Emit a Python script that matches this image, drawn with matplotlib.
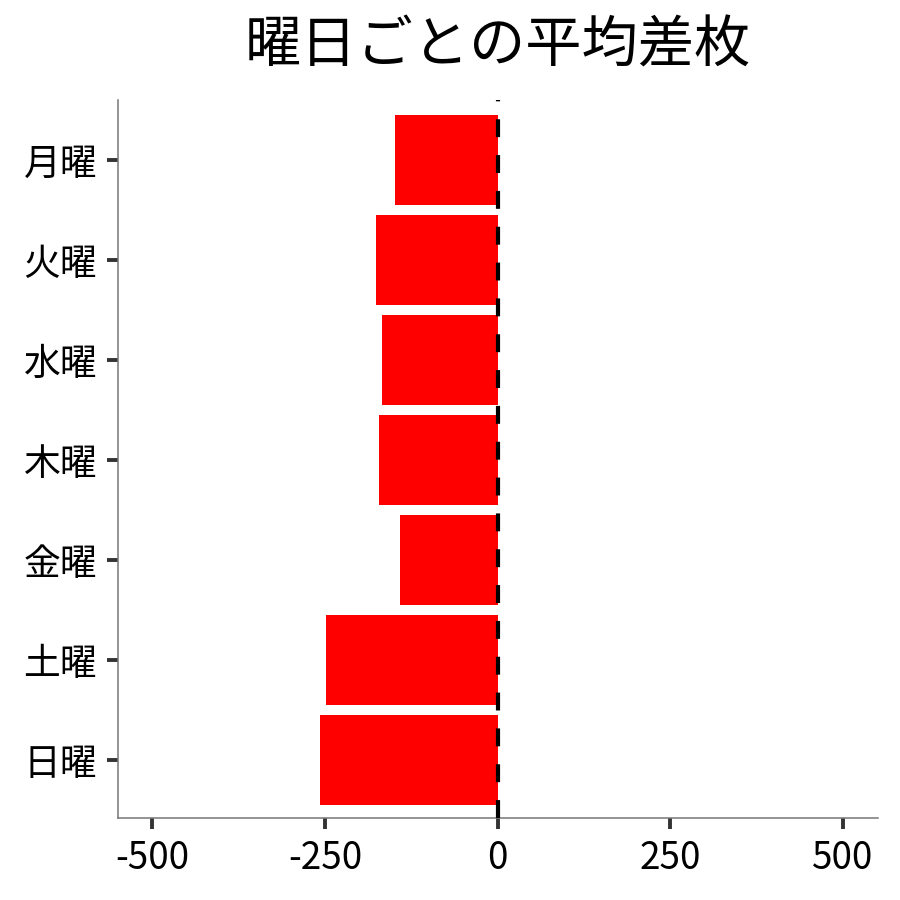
import matplotlib
matplotlib.use("Agg")
import matplotlib.pyplot as plt

plt.rcParams['font.family'] = ['Noto Sans CJK JP', 'DejaVu Sans']

days = ["月曜", "火曜", "水曜", "木曜", "金曜", "土曜", "日曜"]
avg_diff = [-149, -176, -168, -172, -142, -249, -257]
xticks = [-500, -250, 0, 250, 500]
xticklabels = ["-500", "-250", "0", "250", "500"]
title = "曜日ごとの平均差枚"

fig = plt.figure(figsize=(9, 9), dpi=100)
ax = fig.add_axes([0.131, 0.091, 0.844, 0.798])

ypos = list(range(len(days)))
ax.barh(ypos, avg_diff, height=0.9, color="#ff0000", zorder=2)
ax.axvline(0, color="black", linewidth=3.0, linestyle=(0, (4.3, 4.3)), zorder=3)

ax.set_xlim(-550, 550)
ax.set_ylim(6.58, -0.6)
ax.set_yticks(ypos)
ax.set_yticklabels(days)
ax.set_xticks(xticks)
ax.set_xticklabels(xticklabels)

for s in ["top", "right"]:
    ax.spines[s].set_visible(False)
for s in ["left", "bottom"]:
    ax.spines[s].set_color("#777777")
    ax.spines[s].set_linewidth(1.1)

ax.tick_params(axis="both", which="major", length=8, width=2.8, color="#333333",
               labelsize=26.5, pad=7, labelcolor="black")

fig.text(0.553, 0.948, title, ha="center", va="center", fontsize=40.5, color="black")

fig.savefig("out.png", dpi=100)
